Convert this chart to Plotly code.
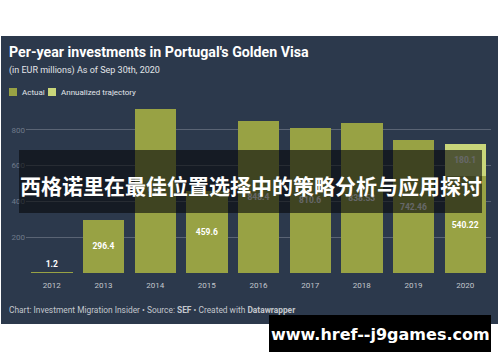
import plotly.graph_objects as go

years = ["2012", "2013", "2014", "2015", "2016", "2017", "2018", "2019", "2020"]
actual = [1.2, 296.4, 918.0, 459.6, 848.4, 810.6, 838.53, 742.46, 540.22]
annualized = [None, None, None, None, None, None, None, None, 180.1]
y_ticks = [0, 200, 400, 600, 800]
y_tick_labels = ["", "200", "400", "600", "800"]
series_names = ["Actual", "Annualized trajectory"]
series_colors = ["#98a244", "#c9d67a"]

W, H = 500, 362
L, R, T, B = 26, 9, 103, 89
PW, PH = W - L - R, H - T - B


def px2x(px):
    return (px - L) / PW


def py2y(py):
    return (H - B - py) / PH


def fmt(v):
    return "" if v is None else ("%g" % v)


fig = go.Figure()
fig.add_trace(go.Bar(
    x=years, y=actual, name=series_names[0], marker=dict(color=series_colors[0], line=dict(width=0)),
    text=[fmt(v) for v in actual],
    textposition=["outside"] + ["inside"] * (len(years) - 1),
    insidetextanchor="middle", textangle=0,
    textfont=dict(family="Roboto", size=8.5, color="#ffffff", weight="bold"),
    cliponaxis=False, showlegend=False, hoverinfo="skip",
))
fig.add_trace(go.Bar(
    x=years, y=annualized, name=series_names[1], marker=dict(color=series_colors[1], line=dict(width=0)),
    text=[fmt(v) for v in annualized], textposition="inside",
    insidetextanchor="middle", textangle=0,
    textfont=dict(family="Roboto", size=8.5, color="#ffffff", weight="bold"),
    showlegend=False, hoverinfo="skip",
))

shapes = [
    dict(type="rect", xref="paper", yref="paper", x0=px2x(1), x1=px2x(498), y0=py2y(324), y1=py2y(36),
         fillcolor="#2c394c", line=dict(width=0), layer="below"),
    # Chinese banner
    dict(type="rect", xref="paper", yref="paper", x0=px2x(19), x1=px2x(482), y0=py2y(213), y1=py2y(150),
         fillcolor="rgba(8,10,12,0.62)", line=dict(width=0), layer="above"),
    # watermark box
    dict(type="rect", xref="paper", yref="paper", x0=px2x(269), x1=px2x(491), y0=py2y(352), y1=py2y(315),
         fillcolor="#000000", line=dict(width=0), layer="above"),
]

annotations = [
    dict(text="<b>Per-year investments in Portugal's Golden Visa</b>", x=px2x(7), y=py2y(52),
         font=dict(family="Roboto", size=14.2, color="#ffffff")),
    dict(text="(in EUR millions) As of Sep 30th, 2020", x=px2x(7), y=py2y(70),
         font=dict(family="Roboto", size=9, color="#e2e5e9")),
    dict(text="Chart: Investment Migration Insider • Source: <b>SEF</b> • Created with <b>Datawrapper</b>",
         x=px2x(7), y=py2y(310), font=dict(family="Roboto", size=8.4, color="#c3c7cd")),
    dict(text="西格诺里在最佳位置选择中的策略分析与应用探讨", x=px2x(250.5), y=py2y(185), xanchor="center",
         font=dict(family="Noto Sans CJK SC", size=21, color="#ffffff", weight="bold")),
    dict(text="<b>www.href--j9games.com</b>", x=px2x(380), y=py2y(334), xanchor="center",
         font=dict(family="DejaVu Sans", size=16, color="#ffffff")),
]
# manual legend
leg_x = [9, 48]
for i, (nm, col) in enumerate(zip(series_names, series_colors)):
    shapes.append(dict(type="rect", xref="paper", yref="paper", x0=px2x(leg_x[i]), x1=px2x(leg_x[i] + 8),
                       y0=py2y(96), y1=py2y(88), fillcolor=col, line=dict(width=0), layer="above"))
    annotations.append(dict(text=nm, x=px2x(leg_x[i] + 11), y=py2y(92),
                            font=dict(family="Roboto", size=8, color="#e2e5e9")))
for a in annotations:
    a.update(xref="paper", yref="paper", showarrow=False, yanchor="middle")
    a.setdefault("xanchor", "left")

fig.update_layout(
    width=W, height=H, margin=dict(l=L, r=R, t=T, b=B, pad=0, autoexpand=False),
    paper_bgcolor="#ffffff", plot_bgcolor="rgba(0,0,0,0)",
    barmode="stack", bargap=0.2,
    shapes=shapes, annotations=annotations, showlegend=False,
    font=dict(family="Roboto"),
    xaxis=dict(showgrid=False, showline=False, ticks="", zeroline=False, automargin=False,
               ticklabelstandoff=6,
               tickfont=dict(size=8, color="#c3c7cd"), fixedrange=True),
    yaxis=dict(range=[0, 950], tickvals=y_ticks, ticktext=y_tick_labels, showgrid=True, automargin=False,
               gridcolor="#5a6474", gridwidth=1, zeroline=False, showline=False, ticks="",
               tickfont=dict(size=8, color="#6f7a8a"), fixedrange=True),
)
fig.write_html("out.html", config={"displayModeBar": False},
               post_script="document.body.style.margin='0';document.body.style.overflow='hidden';")
